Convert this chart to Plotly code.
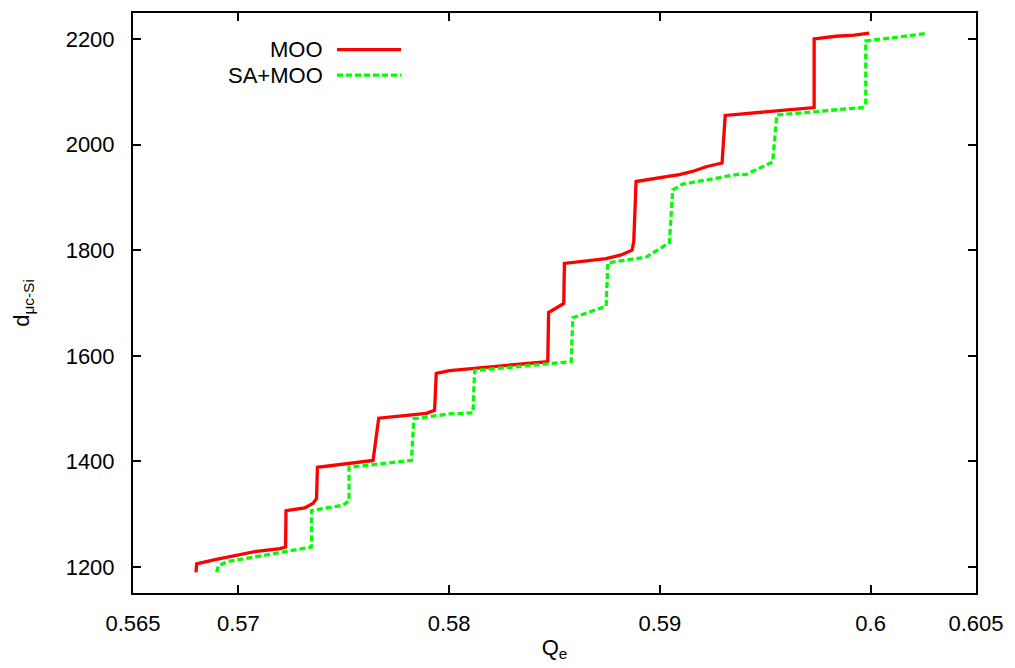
import plotly.graph_objects as go

# MOO series (red)
moo_q = [0.56799, 0.56802, 0.56889, 0.56991, 0.57086, 0.57197, 0.57224, 0.57226,
         0.57315, 0.57355, 0.57371, 0.57375, 0.57639, 0.57666, 0.57892, 0.57931,
         0.57939, 0.58002, 0.58468, 0.58472, 0.58500, 0.58544, 0.58547, 0.58745,
         0.58816, 0.58868, 0.58876, 0.58887, 0.59092, 0.59155, 0.59219, 0.59295,
         0.59310, 0.59717, 0.59732, 0.59732, 0.59835, 0.59922, 0.59993]
moo_d = [1190, 1206, 1214, 1223, 1230, 1235, 1238, 1307,
         1312, 1321, 1330, 1389, 1402, 1482, 1491, 1497,
         1567, 1572, 1589, 1682, 1688, 1699, 1775, 1784,
         1791, 1800, 1816, 1930, 1943, 1949, 1958, 1965,
         2055, 2068, 2070, 2200, 2205, 2207, 2211]

# SA+MOO series (green)
samoo_q = [0.56897, 0.56904, 0.56944, 0.57347, 0.57347, 0.57497, 0.57525, 0.57525,
           0.57821, 0.57833, 0.58002, 0.58113, 0.58121, 0.58579, 0.58587, 0.58745,
           0.58753, 0.58935, 0.59045, 0.59061, 0.59108, 0.59377, 0.59408, 0.59535,
           0.59555, 0.59961, 0.59977, 0.59977, 0.60262]
samoo_d = [1190, 1202, 1210, 1238, 1307, 1317, 1326, 1389,
           1402, 1481, 1490, 1492, 1572, 1589, 1672, 1694,
           1776, 1787, 1814, 1914, 1925, 1944, 1943, 1967,
           2056, 2070, 2075, 2196, 2210]

x_ticks = [0.565, 0.57, 0.58, 0.59, 0.6, 0.605]
x_tick_text = ["0.565", "0.57", "0.58", "0.59", "0.6", "0.605"]
y_ticks = [1200, 1400, 1600, 1800, 2000, 2200]

RED = "#ff0000"
GREEN = "#00ff00"
FONT = "Liberation Sans, Arial, Helvetica, sans-serif"

fig = go.Figure()
fig.add_trace(go.Scatter(x=moo_q, y=moo_d, mode="lines", name="MOO",
                         line=dict(color=RED, width=3.3), showlegend=False))
fig.add_trace(go.Scatter(x=samoo_q, y=samoo_d, mode="lines", name="SA+MOO",
                         line=dict(color=GREEN, width=3.3, dash="6px,3px"), showlegend=False))

# manual gnuplot-style legend (text left, sample right)
legend_items = [("MOO", RED, "solid", 0.937), ("SA+MOO", GREEN, "6px,3px", 0.893)]
for label, color, dash, yp in legend_items:
    fig.add_annotation(x=0.226, y=yp, xref="paper", yref="paper", text=label,
                       showarrow=False, xanchor="right", yanchor="middle",
                       borderpad=0,
                       font=dict(size=22, color="black", family=FONT))
    fig.add_shape(type="line", xref="paper", yref="paper", x0=0.242, x1=0.318,
                  y0=yp, y1=yp, line=dict(color=color, width=3.3, dash=dash))

fig.update_layout(
    width=1015, height=668,
    margin=dict(l=133, r=39, t=11, b=75),
    paper_bgcolor="white", plot_bgcolor="white",
    font=dict(family=FONT, size=22, color="black"),
)
fig.update_xaxes(range=[0.565, 0.605], tickvals=x_ticks, ticktext=x_tick_text,
                 ticks="inside", ticklen=8, tickwidth=2, tickcolor="black",
                 showline=True, linewidth=2, linecolor="black", mirror="ticks",
                 showgrid=False, zeroline=False, ticklabelstandoff=10,
                 tickfont=dict(size=22, family=FONT),
                 title=dict(text="Q<sub>e</sub>", standoff=4,
                            font=dict(size=22, family=FONT)))
fig.update_yaxes(range=[1151, 2249], tickvals=y_ticks,
                 ticks="inside", ticklen=8, tickwidth=2, tickcolor="black",
                 showline=True, linewidth=2, linecolor="black", mirror="ticks",
                 showgrid=False, zeroline=False, ticklabelstandoff=12,
                 tickfont=dict(size=22, family=FONT),
                 title=dict(text="d<sub>μc-Si</sub>", standoff=30,
                            font=dict(size=22, family=FONT)))

fig.write_html("out.html")
